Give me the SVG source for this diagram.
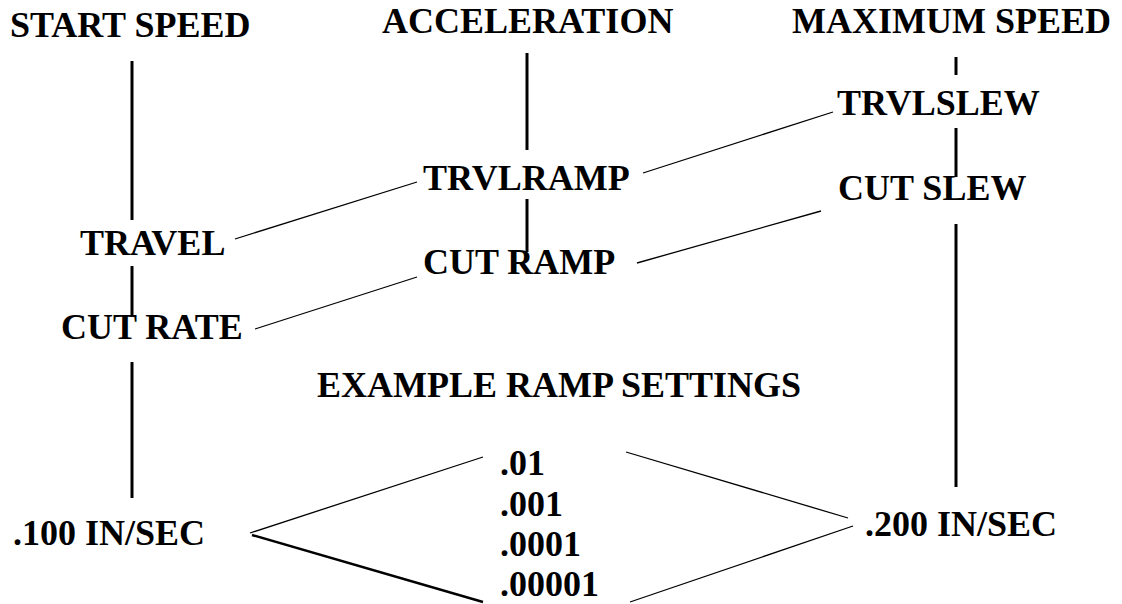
<svg xmlns="http://www.w3.org/2000/svg" width="1122" height="604" viewBox="0 0 1122 604">
<style>
  .t { font-family: "Liberation Serif", "Times New Roman", serif; font-weight: bold; font-size: 36px; fill: #000; }
  .v { stroke: #000; stroke-width: 3; fill: none; }
  .d { stroke: #000; stroke-width: 1.3; fill: none; }
  .dk { stroke: #000; stroke-width: 2.4; fill: none; }
</style>
<rect x="0" y="0" width="1122" height="604" fill="#fff"/>
<g id="connectors">
  <line class="v" x1="132" y1="61" x2="132" y2="220"/>
  <line class="v" x1="132" y1="266" x2="132" y2="315"/>
  <line class="v" x1="132" y1="362" x2="132" y2="498"/>
  <line class="v" x1="527" y1="53" x2="527" y2="150"/>
  <line class="v" x1="527" y1="199" x2="527" y2="252"/>
  <line class="v" x1="956" y1="57" x2="956" y2="75"/>
  <line class="v" x1="956" y1="128" x2="956" y2="177"/>
  <line class="v" x1="956" y1="224" x2="956" y2="487"/>
  <line class="d" x1="235" y1="239" x2="417" y2="182"/>
  <line class="d" x1="643" y1="173" x2="833" y2="112"/>
  <line class="d" x1="255" y1="329" x2="417" y2="277"/>
  <line class="d" x1="637" y1="263" x2="821" y2="211"/>
  <line class="d" x1="250" y1="533" x2="483" y2="457"/>
  <line class="dk" x1="252" y1="535" x2="483" y2="602"/>
  <line class="d" x1="626" y1="452" x2="848" y2="518"/>
  <line class="d" x1="630" y1="602" x2="853" y2="526"/>
</g>
<g id="start-speed"><text class="t" x="10" y="37">START SPEED</text></g>
<g id="acceleration"><text class="t" x="382" y="33">ACCELERATION</text></g>
<g id="maximum-speed"><text class="t" x="792" y="33">MAXIMUM SPEED</text></g>
<g id="trvlslew"><text class="t" x="837" y="115">TRVLSLEW</text></g>
<g id="trvlramp"><text class="t" x="423" y="190">TRVLRAMP</text></g>
<g id="cut-slew"><text class="t" x="838" y="200">CUT SLEW</text></g>
<g id="travel"><text class="t" x="80" y="255">TRAVEL</text></g>
<g id="cut-ramp"><text class="t" x="423" y="274">CUT RAMP</text></g>
<g id="cut-rate"><text class="t" x="61" y="339">CUT RATE</text></g>
<g id="example"><text class="t" x="317" y="397">EXAMPLE RAMP SETTINGS</text></g>
<g id="start-value"><text class="t" x="13" y="545">.100 IN/SEC</text></g>
<g id="ramp-values">
  <text class="t" x="500" y="475">.01</text>
  <text class="t" x="500" y="515.5">.001</text>
  <text class="t" x="500" y="556">.0001</text>
  <text class="t" x="500" y="596">.00001</text>
</g>
<g id="max-value"><text class="t" x="865" y="536">.200 IN/SEC</text></g>
</svg>
